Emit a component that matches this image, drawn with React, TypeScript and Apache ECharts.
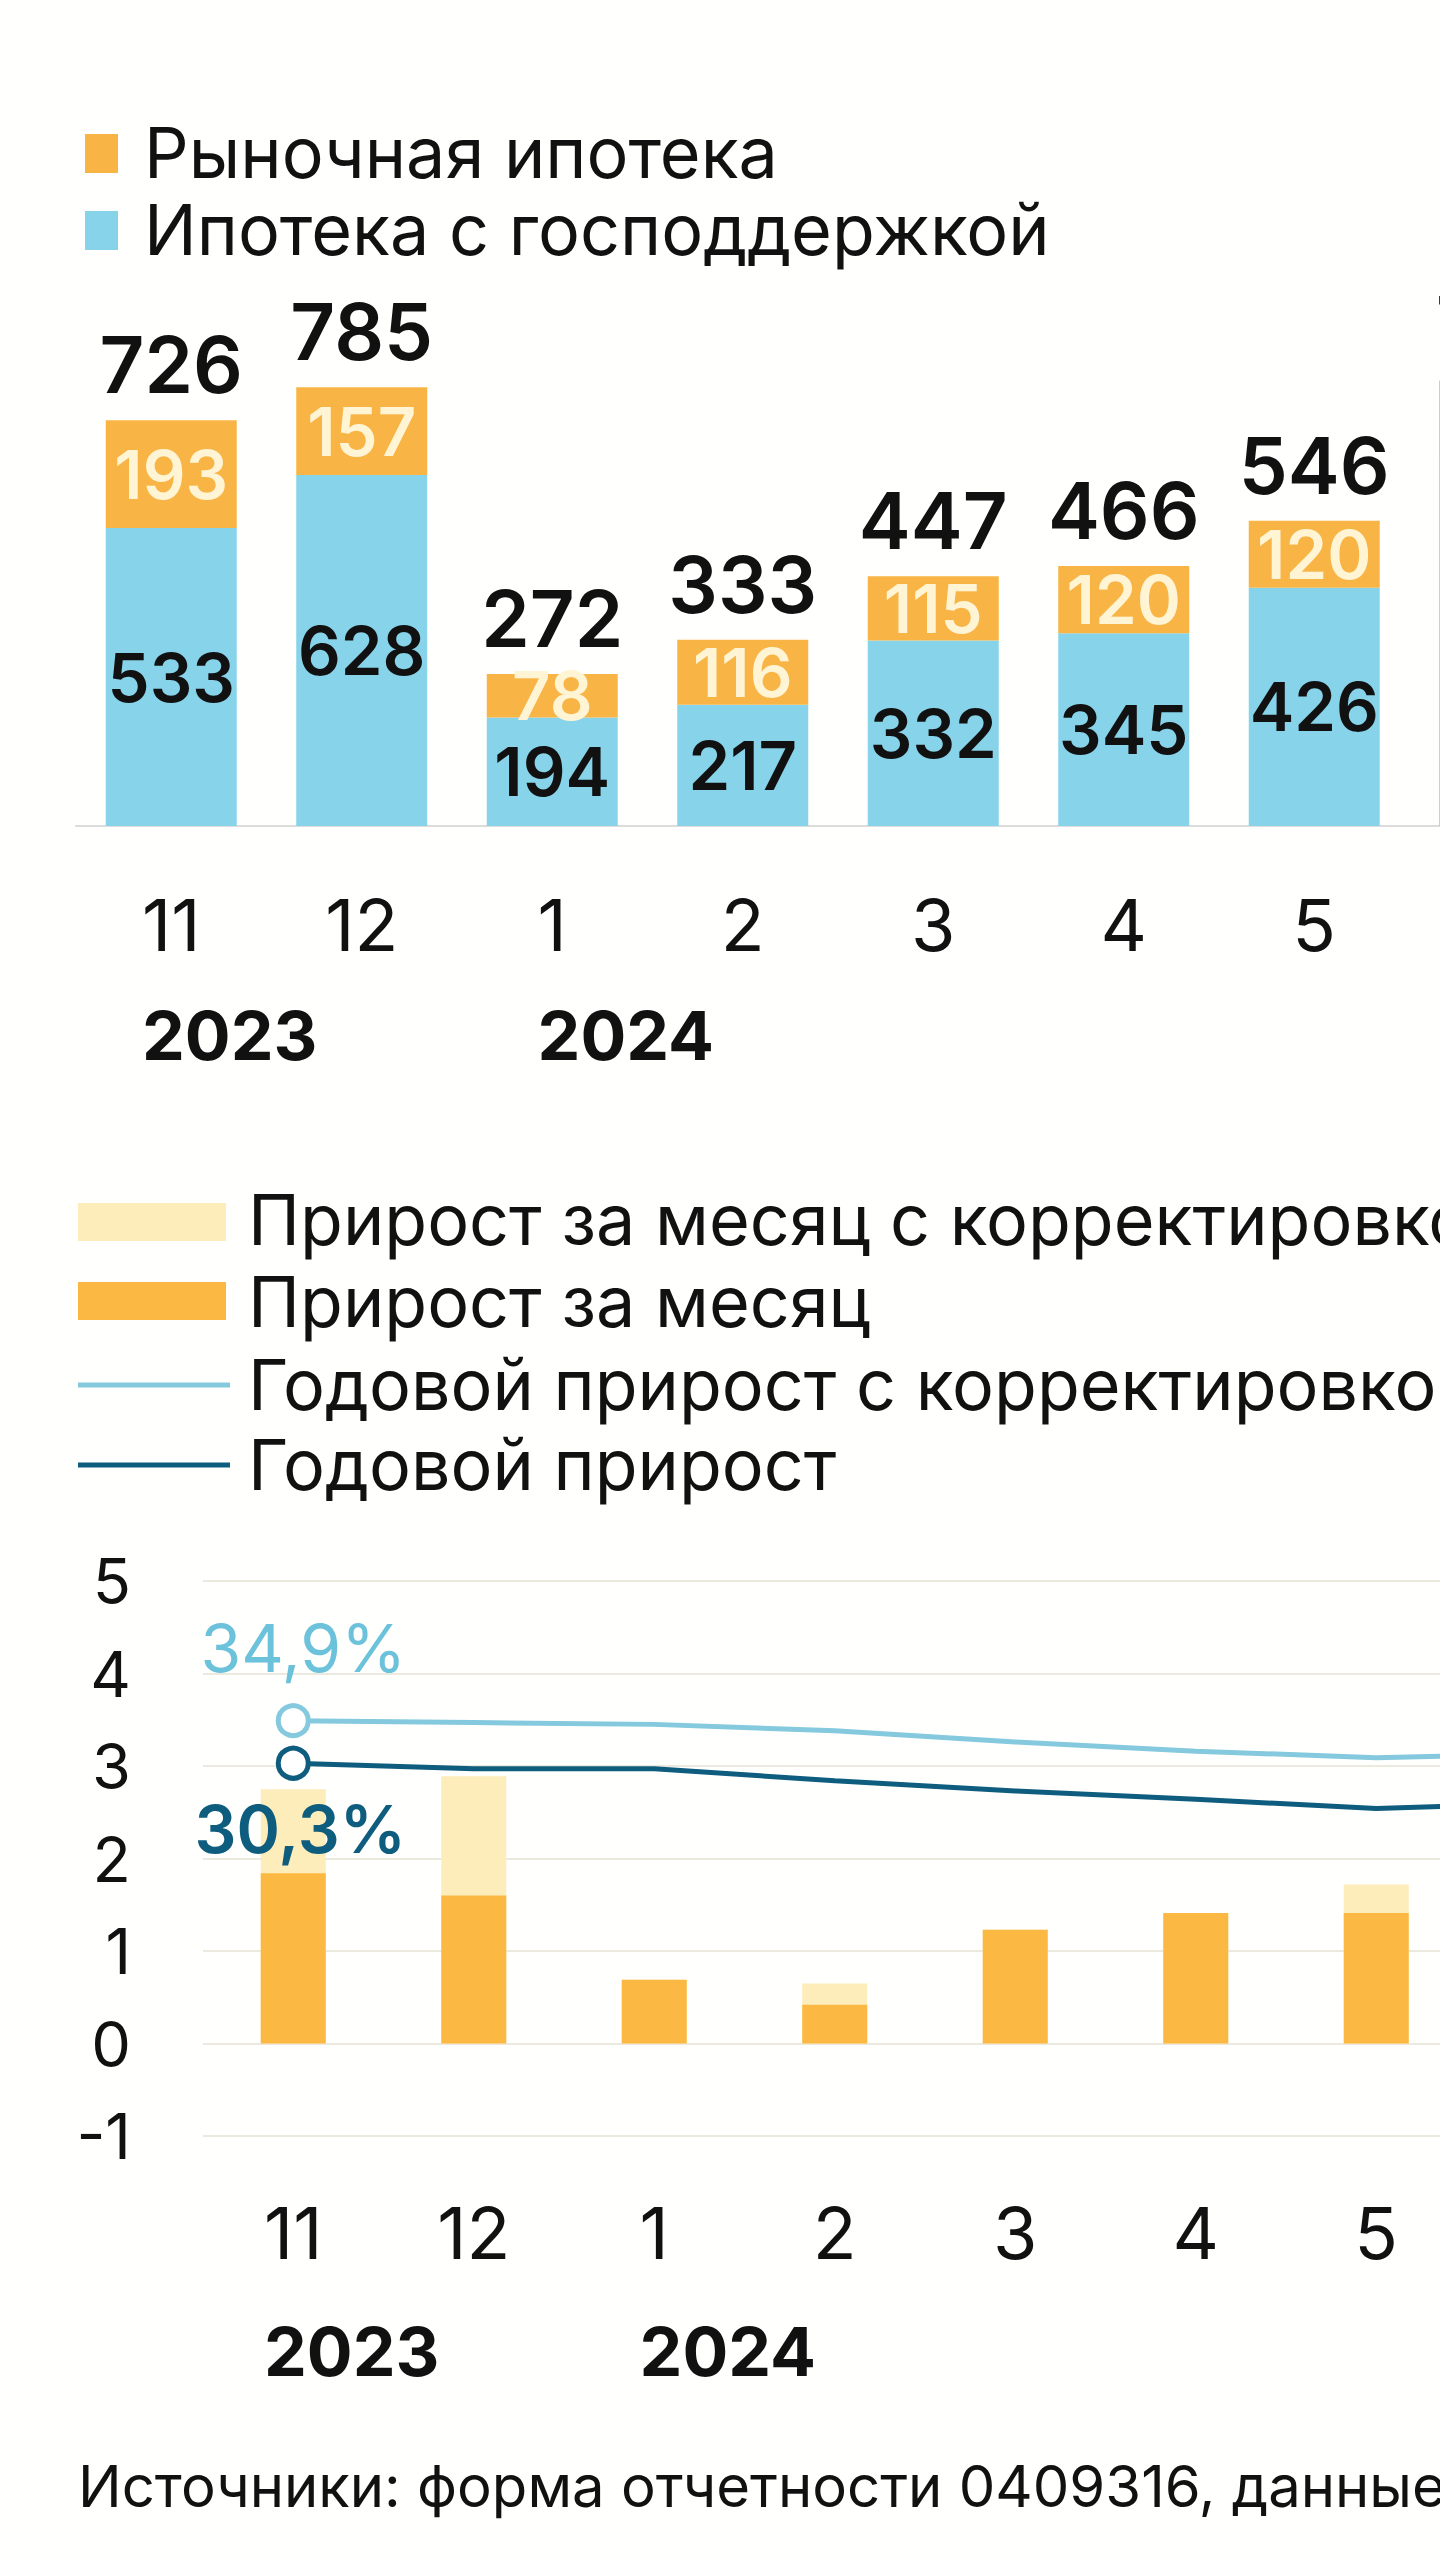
import React, { useEffect, useRef } from "react";
import * as echarts from "echarts";

// ---------- data ----------
const months = ["11", "12", "1", "2", "3", "4", "5", "6"];
const yearMarks = [
  { index: 0, label: "2023" },
  { index: 2, label: "2024" },
];
// top chart: mortgage issuance
const stateSupported = [533, 628, 194, 217, 332, 345, 426, 660];
const marketMortgage = [193, 157, 78, 116, 115, 120, 120, 137];
const totals = [726, 785, 272, 333, 447, 466, 546, 797];
// bottom chart: monthly growth, %
const monthGrowthAdj = [2.75, 2.89, 0.69, 0.65, 1.23, 1.41, 1.72, 1.6];
const monthGrowth = [1.84, 1.6, 0.69, 0.42, 1.23, 1.41, 1.41, 1.5];
// annual growth, %
const annualGrowthAdj = [34.9, 34.7, 34.5, 33.8, 32.6, 31.6, 30.9, 31.3];
const annualGrowth = [30.3, 29.7, 29.7, 28.4, 27.3, 26.4, 25.4, 26.0];
const growthAxis = { min: -1, max: 5, interval: 1 };
const annualAxis = { min: -10, max: 50 };

const topLegend = ["Рыночная ипотека", "Ипотека с господдержкой"];
const bottomLegend = [
  "Прирост за месяц с корректировкой",
  "Прирост за месяц",
  "Годовой прирост с корректировкой",
  "Годовой прирост",
];
const sourceText = "Источники: форма отчетности 0409316, данные Банка России";

// ---------- style ----------
const FONT = 'Inter, "Noto Sans", "DejaVu Sans", sans-serif';
const C = {
  blue: "#87D3EA",
  orange: "#F8B444",
  orangeLabel: "#FFF4D4",
  barOrange: "#FBB843",
  barLight: "#FDEDBA",
  lineLight: "#84C9DD",
  lineLightText: "#6CC2DA",
  lineDark: "#0E5C7E",
  text: "#111111",
  grid: "#ECE9DF",
  axis: "#DCDCDC",
  bg: "#FFFFFD",
};
const MONTH_FONT = 72;
const YEAR_FONT = 68;
const LEGEND_FONT = 70;

const fmtPct = (v: number) => v.toFixed(1).replace(".", ",") + "%";

export default function App() {
  const ref = useRef<HTMLDivElement>(null);

  useEffect(() => {
    if (!ref.current) return;
    const chart = echarts.init(ref.current, null, { renderer: "svg" });

    const monthLabel = {
      fontSize: MONTH_FONT,
      color: C.text,
      fontFamily: FONT,
    };

    chart.setOption({
      animation: false,
      backgroundColor: C.bg,
      grid: [
        { left: 76, top: 267, width: 1524, height: 559 },
        { left: 203, top: 1581, width: 1444, height: 555 },
      ],
      xAxis: [
        {
          type: "category",
          gridIndex: 0,
          data: months,
          axisLine: { lineStyle: { color: C.axis, width: 2 } },
          axisTick: { show: false },
          axisLabel: { ...monthLabel, margin: 62 },
        },
        {
          type: "category",
          gridIndex: 1,
          data: months,
          axisLine: { show: false },
          axisTick: { show: false },
          axisLabel: { ...monthLabel, margin: 60 },
        },
      ],
      yAxis: [
        { type: "value", gridIndex: 0, min: 0, max: 1000, show: false },
        {
          type: "value",
          gridIndex: 1,
          min: growthAxis.min,
          max: growthAxis.max,
          interval: growthAxis.interval,
          axisLine: { show: false },
          axisTick: { show: false },
          axisLabel: {
            fontSize: 63,
            color: C.text,
            fontFamily: FONT,
            margin: 72,
          },
          splitLine: { lineStyle: { color: C.grid, width: 2 } },
        },
        {
          type: "value",
          gridIndex: 1,
          min: annualAxis.min,
          max: annualAxis.max,
          show: false,
          splitLine: { show: false },
        },
      ],
      series: [
        {
          name: topLegend[1],
          type: "bar",
          stack: "mort",
          xAxisIndex: 0,
          yAxisIndex: 0,
          data: stateSupported,
          barWidth: 131,
          itemStyle: { color: C.blue },
          label: {
            show: true,
            position: "inside",
            fontSize: 67,
            fontWeight: 600,
            color: C.text,
            fontFamily: FONT,
          },
        },
        {
          name: topLegend[0],
          type: "bar",
          stack: "mort",
          xAxisIndex: 0,
          yAxisIndex: 0,
          data: marketMortgage,
          barWidth: 131,
          itemStyle: { color: C.orange },
          label: {
            show: true,
            position: "inside",
            fontSize: 67,
            fontWeight: 600,
            color: C.orangeLabel,
            fontFamily: FONT,
          },
        },
        {
          name: "total",
          type: "scatter",
          xAxisIndex: 0,
          yAxisIndex: 0,
          data: totals,
          symbolSize: 1,
          itemStyle: { color: "rgba(0,0,0,0)", opacity: 1 },
          label: {
            show: true,
            position: "top",
            distance: 16,
            fontSize: 78,
            fontWeight: 600,
            color: C.text,
            opacity: 1,
            fontFamily: FONT,
          },
          z: 5,
        },
        {
          name: bottomLegend[0],
          type: "bar",
          xAxisIndex: 1,
          yAxisIndex: 1,
          data: monthGrowthAdj,
          barWidth: 65,
          barGap: "-100%",
          itemStyle: { color: C.barLight },
        },
        {
          name: bottomLegend[1],
          type: "bar",
          xAxisIndex: 1,
          yAxisIndex: 1,
          data: monthGrowth,
          barWidth: 65,
          barGap: "-100%",
          itemStyle: { color: C.barOrange },
        },
        {
          name: bottomLegend[2],
          type: "line",
          xAxisIndex: 1,
          yAxisIndex: 2,
          symbol: "none",
          lineStyle: { color: C.lineLight, width: 5 },
          z: 4,
          data: annualGrowthAdj.map((v, i) =>
            i === 0
              ? {
                  value: v,
                  symbol: "circle",
                  symbolSize: 30,
                  itemStyle: {
                    color: "#ffffff",
                    borderColor: C.lineLight,
                    borderWidth: 5,
                  },
                  label: {
                    show: true,
                    position: "top",
                    distance: 22,
                    offset: [10, 0],
                    formatter: () => fmtPct(v),
                    fontSize: 66,
                    color: C.lineLightText,
                    fontFamily: FONT,
                  },
                }
              : v
          ),
        },
        {
          name: bottomLegend[3],
          type: "line",
          xAxisIndex: 1,
          yAxisIndex: 2,
          symbol: "none",
          lineStyle: { color: C.lineDark, width: 5 },
          z: 4,
          data: annualGrowth.map((v, i) =>
            i === 0
              ? {
                  value: v,
                  symbol: "circle",
                  symbolSize: 30,
                  itemStyle: {
                    color: "#ffffff",
                    borderColor: C.lineDark,
                    borderWidth: 5,
                  },
                  label: {
                    show: true,
                    position: "bottom",
                    distance: 15,
                    offset: [7, 0],
                    formatter: () => fmtPct(v),
                    fontSize: 66,
                    fontWeight: 600,
                    color: C.lineDark,
                    fontFamily: FONT,
                  },
                }
              : v
          ),
        },
      ],
    });

    // year labels aligned with the left edge of their month label
    const canvas = document.createElement("canvas");
    const ctx = canvas.getContext("2d");
    const measure = (t: string) => {
      if (!ctx) return t.length * MONTH_FONT * 0.55;
      ctx.font = `${MONTH_FONT}px ${FONT}`;
      return ctx.measureText(t).width;
    };
    const yearTexts: any[] = [];
    [
      { axis: 0, y: 1035 },
      { axis: 1, y: 2351 },
    ].forEach(({ axis, y }) => {
      yearMarks.forEach((ym) => {
        const cx = chart.convertToPixel({ xAxisIndex: axis }, ym.index) as number;
        const w = measure(months[ym.index]);
        yearTexts.push({
          type: "text",
          x: cx - w / 2,
          y,
          style: {
            text: ym.label,
            fontSize: YEAR_FONT,
            fontWeight: 700,
            fontFamily: FONT,
            fill: C.text,
            align: "left",
            verticalAlign: "middle",
          },
        });
      });
    });

    const legendText = (text: string, x: number, y: number, size: number) => ({
      type: "text",
      x,
      y,
      style: {
        text,
        fontSize: size,
        fontFamily: FONT,
        fill: C.text,
        align: "left",
        verticalAlign: "middle",
      },
    });

    chart.setOption({
      graphic: [
        // top legend
        { type: "rect", shape: { x: 85, y: 134, width: 33, height: 39 }, style: { fill: C.orange } },
        legendText(topLegend[0], 144, 152, LEGEND_FONT),
        { type: "rect", shape: { x: 85, y: 211, width: 33, height: 39 }, style: { fill: C.blue } },
        legendText(topLegend[1], 144, 229, LEGEND_FONT),
        // bottom legend
        { type: "rect", shape: { x: 78, y: 1203, width: 148, height: 38 }, style: { fill: C.barLight } },
        legendText(bottomLegend[0], 248, 1219, LEGEND_FONT),
        { type: "rect", shape: { x: 78, y: 1282, width: 148, height: 38 }, style: { fill: C.barOrange } },
        legendText(bottomLegend[1], 248, 1301, LEGEND_FONT),
        { type: "line", shape: { x1: 78, y1: 1385, x2: 230, y2: 1385 }, style: { stroke: C.lineLight, lineWidth: 5 } },
        legendText(bottomLegend[2], 248, 1384, LEGEND_FONT),
        { type: "line", shape: { x1: 78, y1: 1465, x2: 230, y2: 1465 }, style: { stroke: C.lineDark, lineWidth: 5 } },
        legendText(bottomLegend[3], 248, 1464, LEGEND_FONT),
        ...yearTexts,
        legendText(sourceText, 78, 2486, 58),
      ],
    });

    return () => chart.dispose();
  }, []);

  return (
    <div
      style={{
        position: "absolute",
        left: 0,
        top: 0,
        width: 1440,
        height: 2560,
        overflow: "hidden",
        background: C.bg,
      }}
    >
      <div ref={ref} style={{ width: 1800, height: 2560 }} />
    </div>
  );
}
